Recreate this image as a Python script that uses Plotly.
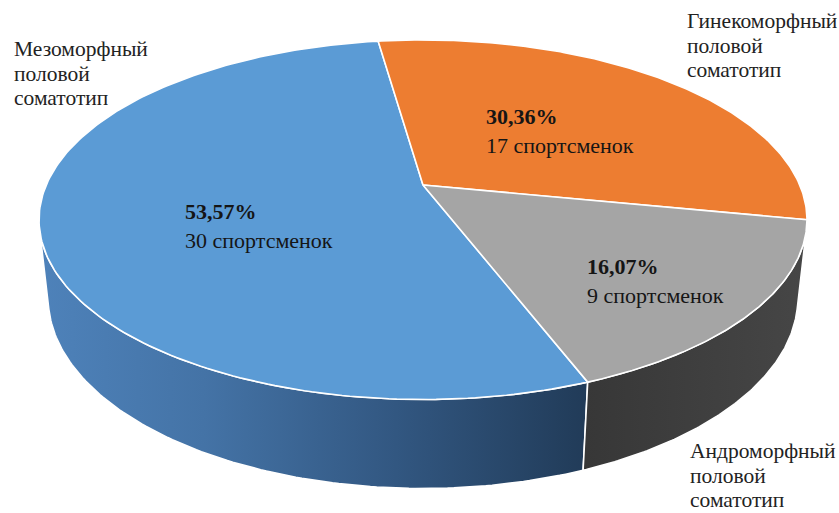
import numpy as np
import plotly.graph_objects as go

# --- data -------------------------------------------------------------
categories = ["Мезоморфный", "Гинекоморфный", "Андроморфный"]
category_suffix = ["половой", "соматотип"]
athletes = [30, 17, 9]
unit = "спортсменок"

# --- style -----------------------------------------------------------
top_colors = ["#5b9bd5", "#ed7d31", "#a5a5a5"]
side_scales = [
    [[0.0, "#4e82ba"], [0.3, "#4473a6"], [0.65, "#325781"], [1.0, "#213b58"]],
    [[0.0, "#b4581d"], [1.0, "#8a4317"]],
    [[0.0, "#373737"], [1.0, "#464646"]],
]
FONT = "Liberation Serif"

# --- 3D pie geometry (perspective projection of a flat disc) ----------
ELEV = np.radians(27.35)  # camera elevation
DIST = 4.60               # camera distance, in disc radii
THICK = 0.236             # disc thickness, in disc radii
FOCAL = 1733.0            # projection scale, px
CX, CY = 423.0, 185.0     # screen position of the disc centre
START = 159.0             # first slice start angle, clockwise from the back


def project(ang_deg, r=1.0, z=0.0):
    t = np.radians(np.asarray(ang_deg, dtype=float))
    x = r * np.sin(t)
    y = r * np.cos(t)
    c, s = np.cos(ELEV), np.sin(ELEV)
    vy = y + DIST * c
    vz = z - DIST * s
    depth = vy * c - vz * s
    up = vy * s + vz * c
    return CX + FOCAL * x / depth, CY - FOCAL * up / depth


total = sum(athletes)
spans = [v / total * 360.0 for v in athletes]
bounds = []
a = START
for sp in spans:
    bounds.append((a, a + sp))
    a += sp

# the cylinder wall is visible where its normal faces the camera
vis_lim = np.degrees(np.arccos(-1.0 / (DIST * np.cos(ELEV))))
vis_range = (vis_lim, 360.0 - vis_lim)

fig = go.Figure()

# side walls first
for i, (a0, a1) in enumerate(bounds):
    for k in (-360.0, 0.0, 360.0):
        lo = max(a0 + k, vis_range[0])
        hi = min(a1 + k, vis_range[1])
        if hi <= lo:
            continue
        angs = np.linspace(lo, hi, 120)
        tx, ty = project(angs, 1.0, 0.0)
        bx, by = project(angs[::-1], 1.0, -THICK)
        xs = np.concatenate([tx, bx, tx[:1]])
        ys = np.concatenate([ty, by, ty[:1]])
        fig.add_trace(go.Scatter(
            x=xs, y=ys, mode="lines", fill="toself",
            fillgradient=dict(type="horizontal", colorscale=side_scales[i]),
            line=dict(color="white", width=1.6),
            hoverinfo="skip", showlegend=False,
        ))

# top faces
for i, (a0, a1) in enumerate(bounds):
    angs = np.linspace(a0, a1, 200)
    ax, ay = project(angs, 1.0, 0.0)
    ox, oy = project(0.0, 0.0, 0.0)
    xs = np.concatenate([[ox], ax, [ox]])
    ys = np.concatenate([[oy], ay, [oy]])
    fig.add_trace(go.Scatter(
        x=xs, y=ys, mode="lines", fill="toself",
        fillcolor=top_colors[i],
        line=dict(color="white", width=1.6),
        hoverinfo="skip", showlegend=False,
    ))

# value labels inside slices
inner_pos = [(183, 197), (484, 102), (585, 252)]
for i, v in enumerate(athletes):
    pct = f"{v / total * 100:.2f}".replace(".", ",") + "%"
    fig.add_annotation(
        x=inner_pos[i][0], y=inner_pos[i][1], xref="x", yref="y",
        xanchor="left", yanchor="top", align="left", showarrow=False,
        text=f"<b>{pct}</b><br>{v} {unit}",
        font=dict(family=FONT, size=22, color="#151515"),
    )

# category labels outside the pie, one line at a time
outer_pos = [(12, 49), (685, 21), (688, 451)]
LINE_GAP = 24.5
for i, name in enumerate(categories):
    for j, line in enumerate([name] + category_suffix):
        fig.add_annotation(
            x=outer_pos[i][0], y=outer_pos[i][1] + j * LINE_GAP,
            xref="x", yref="y",
            xanchor="left", yanchor="middle", align="left", showarrow=False,
            text=line,
            font=dict(family=FONT, size=21.5, color="#222222"),
        )

fig.update_xaxes(range=[0, 839], visible=False, fixedrange=True)
fig.update_yaxes(range=[513, 0], visible=False, fixedrange=True)
fig.update_layout(
    width=839, height=513,
    margin=dict(l=0, r=0, t=0, b=0),
    paper_bgcolor="white", plot_bgcolor="white",
    showlegend=False,
)

fig.write_html("out.html")
